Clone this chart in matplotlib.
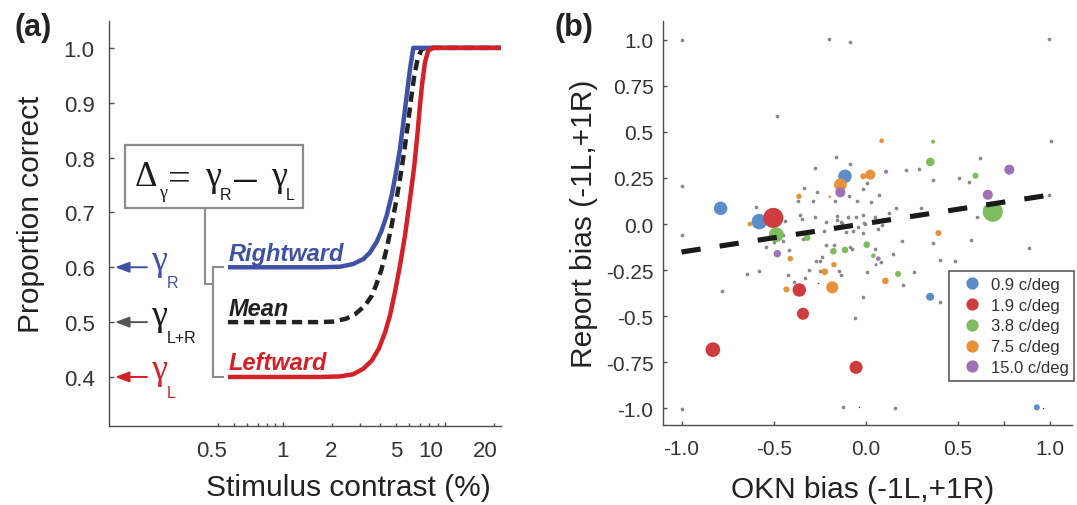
import matplotlib
matplotlib.use('Agg')
import matplotlib.pyplot as plt
import matplotlib.transforms as mtransforms
from matplotlib.lines import Line2D
from matplotlib.patches import Rectangle
from matplotlib.ticker import NullFormatter

plt.rcParams['font.family'] = ['Liberation Sans', 'DejaVu Sans']

# ======================= DATA: panel (a) =======================
contrast_right = [0.46, 1.70, 2.26, 2.72, 3.14, 3.45, 3.79, 4.07, 4.37, 4.69,
                  4.99, 5.28, 5.54, 5.81, 6.09, 6.38, 22.0]
p_right = [0.600, 0.600, 0.601, 0.606, 0.615, 0.627, 0.646, 0.667, 0.694, 0.731,
           0.773, 0.816, 0.864, 0.913, 0.962, 1.000, 1.000]

contrast_left = [0.46, 1.70, 2.26, 2.72, 3.14, 3.54, 3.90, 4.27, 4.58, 4.91, 5.28,
                 5.67, 6.09, 6.47, 6.78, 7.01, 7.25, 7.53, 7.88, 8.48, 22.0]
p_left = [0.400, 0.400, 0.401, 0.405, 0.415, 0.430, 0.451, 0.481, 0.512, 0.554, 0.603,
          0.658, 0.725, 0.785, 0.846, 0.895, 0.937, 0.974, 0.995, 1.000, 1.000]

contrast_mean = [0.46, 1.70, 2.04, 2.45, 2.81, 3.21, 3.54, 3.79, 4.07, 4.37, 4.69,
                 4.99, 5.28, 5.60, 5.89, 6.18, 6.47, 6.78, 7.19, 7.73, 22.0]
p_mean = [0.500, 0.500, 0.501, 0.506, 0.515, 0.530, 0.548, 0.570, 0.597, 0.634, 0.676,
          0.719, 0.761, 0.810, 0.858, 0.907, 0.949, 0.980, 0.998, 1.000, 1.000]

gamma_R, gamma_LR, gamma_L = 0.6, 0.5, 0.4
curve_names = ['Rightward', 'Mean', 'Leftward']

xticks_a = [0.5, 1, 2, 5, 10, 20]
xticklabels_a = ['0.5', '1', '2', '5', '10', '20']
xminor_a = [0.4, 0.6, 0.7, 0.8, 0.9, 3, 4, 6, 7, 8, 9]
yticks_a = [0.4, 0.5, 0.6, 0.7, 0.8, 0.9, 1.0]
yticklabels_a = ['0.4', '0.5', '0.6', '0.7', '0.8', '0.9', '1.0']

# ======================= DATA: panel (b) =======================
gray_x = [-1.0, -0.20, -0.086, 0.996, -0.484, -1.0, -0.163, -0.086, -0.276, -0.334,
          -0.263, -0.368, -0.287, -0.169, -0.091, -0.049, -0.357, -0.346, -0.274, -0.158,
          -0.098, -0.055, -0.158, -0.135, -0.216, -0.440, -0.598, -0.044, 1.004, 0.620,
          0.218, 0.287, 0.506, 0.559, 0.363, 0.993, -0.014, 0.007, 0.072, 0.030,
          0.164, 0.298, 0.128, 0.605, 0.048, -0.017, -0.006, -0.012, 0.088, -0.998,
          -0.782, -1.0, -0.542, -0.643, -0.581, -0.448, -0.451, -0.462, -0.498, -0.417,
          -0.424, -0.390, -0.330, -0.308, -0.272, -0.249, -0.238, -0.214, -0.173, -0.249,
          -0.145, -0.135, -0.088, -0.073, -0.225, -0.339, -0.131, -0.109, -0.071, -0.059,
          -0.125, -0.017, 0.066, 0.197, 0.367, 0.571, 0.884, 0.048, 0.149, 0.083,
          0.403, 0.484, 0.005, 0.263, 0.200, -0.017, 0.401, 0.159]
gray_y = [1.0, 1.005, 0.99, 1.005, 0.585, 0.208, 0.365, 0.324, 0.306, 0.194,
          0.172, 0.127, 0.125, 0.125, 0.154, 0.123, 0.049, 0.025, 0.040, 0.045,
          0.040, 0.036, 0.022, 0.011, 0.011, 0.016, 0.094, -0.015, 0.451, 0.358,
          0.293, 0.299, 0.250, 0.226, 0.241, 0.159, 0.192, 0.224, 0.159, 0.121,
          0.088, 0.085, 0.061, 0.040, 0.038, 0.050, 0.0, 0.006, -0.005, -0.060,
          -0.366, -1.003, -0.123, -0.273, -0.253, -0.094, -0.060, -0.045, -0.100, -0.141,
          -0.275, -0.313, -0.293, -0.248, -0.201, -0.201, -0.177, -0.116, -0.116, -0.257,
          -0.253, -0.279, -0.123, -0.134, -0.040, -0.081, 0.004, -0.042, -0.040, -0.510,
          -0.992, -0.051, -0.027, -0.092, -0.105, -0.085, -0.130, -0.136, -0.165, -0.208,
          -0.194, -0.201, -0.261, -0.261, -0.329, -0.395, -0.423, -1.001]
tiny_x = [-0.259, -0.035, 0.96]
tiny_y = [-0.322, -0.995, -0.999]

sf_labels = ['0.9 c/deg', '1.9 c/deg', '3.8 c/deg', '7.5 c/deg', '15.0 c/deg']

x_09 = [-0.788, -0.578, -0.113, 0.349, 0.928]
y_09 = [0.085, 0.013, 0.259, -0.395, -0.995]
n_09 = [6.7, 7.7, 6.7, 4.0, 3.0]

x_19 = [-0.502, -0.830, -0.361, -0.341, -0.053]
y_19 = [0.033, -0.682, -0.358, -0.487, -0.778]
n_19 = [10.0, 7.3, 6.7, 6.0, 6.5]

x_38 = [-0.486, 0.689, 0.350, 0.365, 0.595, -0.318, -0.176, -0.113, 0.005, 0.041, 0.175]
y_38 = [-0.058, 0.067, 0.337, 0.447, 0.262, -0.074, -0.148, -0.141, -0.112, -0.172, -0.271]
n_38 = [7.3, 10.0, 4.3, 2.0, 3.0, 3.3, 3.3, 3.3, 3.3, 2.3, 3.0]

x_75 = [-0.629, -0.138, -0.363, -0.196, 0.086, 0.024, -0.014, -0.431, -0.182, -0.410,
        -0.173, -0.223, 0.394, 0.106]
y_75 = [0.0, 0.213, 0.150, 0.148, 0.452, 0.268, 0.259, -0.355, -0.344, -0.188,
        -0.221, -0.259, -0.049, -0.309]
n_75 = [2.3, 6.3, 2.7, 1.3, 2.3, 5.0, 3.0, 3.0, 6.0, 2.7, 2.7, 3.3, 3.0, 3.3]

x_150 = [-0.138, 0.110, 0.779, 0.662, -0.480, 0.068, 0.055]
y_150 = [0.172, 0.284, 0.295, 0.159, -0.161, -0.188, -0.221]
n_150 = [5.0, 2.0, 5.0, 5.0, 3.7, 2.3, 1.5]

fit_x = [-1.0, 0.97]
fit_y = [-0.152, 0.153]

xticks_b = [-1.0, -0.5, 0.0, 0.5, 0.75, 1.0]
xticklabels_b = ['-1.0', '-0.5', '0.0', '0.5', '', '1.0']
yticks_b = [1.0, 0.75, 0.5, 0.25, 0.0, -0.25, -0.5, -0.75, -1.0]
yticklabels_b = ['1.0', '0.75', '0.5', '0.25', '0.0', '-0.25', '-0.5', '-0.75', '-1.0']

# ======================= FIGURE =======================
W, H = 1077, 506
fig = plt.figure(figsize=(W / 100, H / 100), dpi=100)


def rect(l, t, r, b):
    return [l / W, 1 - b / H, (r - l) / W, (b - t) / H]


def off(trans, dx_px, dy_px):
    return trans + mtransforms.ScaledTranslation(dx_px / 100, dy_px / 100, fig.dpi_scale_trans)


axA = fig.add_axes(rect(108.5, 22, 500.7, 427))
axB = fig.add_axes(rect(663.3, 22, 1072, 426))

SPINE = '#4d4d4d'
TXT = '#333333'
LAB = '#222222'
BLUE = '#3f51a5'
RED = '#d42027'
BLACK = '#222222'
BRACKET = '#8c8c8c'

for ax in (axA, axB):
    for s in ('top', 'right'):
        ax.spines[s].set_visible(False)
    for s in ('left', 'bottom'):
        ax.spines[s].set_color(SPINE)
        ax.spines[s].set_linewidth(1.0)

# ---------------- panel (a) ----------------
axA.plot(contrast_mean, p_mean, color=BLACK, lw=3.2, dashes=(2.3, 1.3),
         dash_capstyle='butt', zorder=3)
axA.plot(contrast_right, p_right, color=BLUE, lw=3.2, solid_capstyle='butt', zorder=4)
axA.plot(contrast_left, p_left, color=RED, lw=3.2, solid_capstyle='butt', zorder=5)
axA.set_xscale('log')
axA.set_xlim(0.0845, 22.04)
axA.set_ylim(0.3106, 1.049)
axA.set_yticks(yticks_a)
axA.set_yticklabels(yticklabels_a)
axA.set_xticks(xticks_a)
axA.set_xticklabels(xticklabels_a)
axA.set_xticks(xminor_a, minor=True)
axA.xaxis.set_minor_formatter(NullFormatter())
axA.tick_params(axis='both', which='both', direction='in', color=SPINE, width=1.0,
                labelsize=16, labelcolor=TXT)
axA.tick_params(axis='y', which='major', length=3.6, pad=10)
axA.tick_params(axis='x', which='both', length=2.0, pad=10)
label_shift = {0.5: -22, 10: -14, 20: -9}
for t, loc in zip(axA.xaxis.get_major_ticks(), xticks_a):
    if loc in (1, 10):
        t.tick1line.set_markersize(3.0)
    if loc in label_shift:
        t.label1.set_transform(off(t.label1.get_transform(), label_shift[loc], 0))

axA.set_ylabel('Proportion correct', fontsize=21.5, color=LAB, ha='center', va='center')
axA.yaxis.set_label_coords((31 - 108.5) / 392.2, (427 - 214) / 405)
axA.set_xlabel('Stimulus contrast (%)', fontsize=21.5, color=LAB, ha='center', va='center')
axA.xaxis.set_label_coords((348 - 108.5) / 392.2, (427 - 488) / 405)


def fx(px):
    return (px - 108.5) / 392.2


def fy(py):
    return (427 - py) / 405


blend = mtransforms.blended_transform_factory(axA.transAxes, axA.transData)
tA = axA.transAxes

# formula box
axA.add_patch(Rectangle((fx(125), fy(209.3)), fx(303.3) - fx(125), fy(146) - fy(209.3),
                        transform=tA, facecolor='white', edgecolor=BRACKET, lw=1.6,
                        clip_on=False, zorder=6))
FORM = '#1a1a1a'
serif = 'Liberation Serif'
formula_parts = [
    # text, left px, baseline px, size, family, weight
    ('\u0394', 134.5, 185.5, 25, serif, 'normal'),
    ('\u03b3', 159.5, 198.0, 13, serif, 'normal'),
    ('=', 168.5, 190.0, 29, serif, 'normal'),
    ('\u03b3', 205.0, 186.0, 26, serif, 'normal'),
    ('R', 219.5, 200.0, 11.5, 'Liberation Sans', 'normal'),
    ('\u2014', 234.0, 187.0, 16.5, 'Liberation Sans', 'bold'),
    ('\u03b3', 271.0, 186.0, 26, serif, 'normal'),
    ('L', 286.0, 200.0, 11.5, 'Liberation Sans', 'normal'),
]
for s, lx, by, fs, fam, wt in formula_parts:
    axA.text(fx(lx), fy(by), s, transform=tA, ha='left', va='baseline', fontsize=fs,
             family=fam, fontweight=wt, color=FORM, zorder=7)

# bracket
axA.plot([fx(205), fx(205), fx(213.3)], [fy(209.3), fy(285), fy(285)], transform=tA,
         color=BRACKET, lw=1.5, clip_on=False, solid_joinstyle='miter', zorder=2)
axA.plot([fx(222.7), fx(213.3), fx(213.3), fx(222.7)], [gamma_R, gamma_R, gamma_L, gamma_L],
         transform=blend, color=BRACKET, lw=1.5, clip_on=False, solid_joinstyle='miter', zorder=2)

# gamma labels with arrows
for level, col, acol, sub in [(gamma_R, BLUE, BLUE, 'R'),
                              (gamma_LR, '#1a1a1a', '#555555', 'L+R'),
                              (gamma_L, RED, RED, 'L')]:
    axA.annotate('', xy=(fx(115), level), xytext=(fx(147), level), xycoords=blend,
                 textcoords=blend,
                 arrowprops=dict(arrowstyle='-|>,head_length=0.85,head_width=0.32',
                                 color=acol, lw=1.4, shrinkA=0, shrinkB=0,
                                 mutation_scale=10))
    axA.text(fx(151), level, '\u03b3', fontsize=26, family=serif, color=col,
             ha='left', va='baseline', transform=off(blend, 0, -1.5))
    axA.text(fx(166.5), level, sub, fontsize=11.5, color=col, ha='left', va='baseline',
             transform=off(blend, 0, -20))

# curve names
for name, level, col in zip(curve_names, [gamma_R, gamma_LR, gamma_L], [BLUE, BLACK, RED]):
    axA.text(fx(229), level, name, fontsize=17, fontweight='bold', fontstyle='italic',
             color=col, ha='left', va='baseline', transform=off(blend, 0, 7.5))

fig.text(33 / W, 1 - 28 / H, '(a)', fontsize=22, fontweight='bold', ha='center',
         va='center', color=LAB)

# ---------------- panel (b) ----------------
axB.scatter(gray_x, gray_y, s=7, color='#888888', linewidths=0, zorder=2)
axB.scatter(tiny_x, tiny_y, s=1.0, color='#333333', linewidths=0, zorder=2)
sf_colors = ['#5b8dc9', '#cf3c3f', '#7cbd5e', '#e8913a', '#a070b5']
groups = [(x_09, y_09, n_09), (x_19, y_19, n_19), (x_38, y_38, n_38),
          (x_75, y_75, n_75), (x_150, y_150, n_150)]
for (xs, ys, ns), col in zip(groups, sf_colors):
    axB.scatter(xs, ys, s=[2.1 * n * n for n in ns], color=col, linewidths=0, zorder=3)
axB.plot(fit_x, fit_y, color='#1a1a1a', lw=3.7, dashes=(3.75, 3.75), dash_capstyle='butt',
         zorder=4)
axB.set_xlim(-1.099, 1.119)
axB.set_ylim(-1.091, 1.102)
axB.set_xticks(xticks_b)
axB.set_xticklabels(xticklabels_b)
axB.set_yticks(yticks_b)
axB.set_yticklabels(yticklabels_b)
axB.tick_params(axis='both', direction='in', length=3.0, width=1.0, color=SPINE,
                labelsize=15, labelcolor=TXT)
axB.tick_params(axis='y', pad=7)
axB.tick_params(axis='x', pad=10)
axB.set_ylabel('Report bias (-1L,+1R)', fontsize=21.5, color=LAB, ha='center', va='center')
axB.yaxis.set_label_coords((584 - 663.3) / 408.7, 0.5)
axB.set_xlabel('OKN bias (-1L,+1R)', fontsize=21.5, color=LAB, ha='center', va='center')
axB.xaxis.set_label_coords((863 - 663.3) / 408.7, (426 - 490) / 404)

handles = [Line2D([], [], marker='o', ls='none', color=c, markeredgewidth=0, markersize=8.8)
           for c in sf_colors]
leg = axB.legend(handles, sf_labels, loc='upper left',
                 bbox_to_anchor=((949 - 663.3) / 408.7, (426 - 272) / 404),
                 borderaxespad=0, fontsize=12, frameon=True, fancybox=False,
                 borderpad=0.35, labelspacing=0.35, handlelength=2.0, handletextpad=0.15,
                 labelcolor=TXT)
leg.get_frame().set_edgecolor('#222222')
leg.get_frame().set_linewidth(1.1)
leg.set_zorder(10)

fig.text(574 / W, 1 - 28 / H, '(b)', fontsize=22, fontweight='bold', ha='center',
         va='center', color=LAB)

fig.savefig('out.png', dpi=100, facecolor='white')
